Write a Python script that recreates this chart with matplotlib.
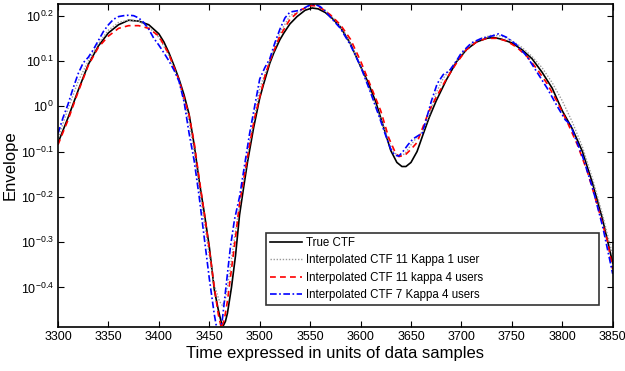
import numpy as np
import matplotlib
matplotlib.use("Agg")
import matplotlib.pyplot as plt

plt.rcParams['font.family'] = ['Liberation Sans', 'DejaVu Sans']
plt.rcParams['mathtext.fontset'] = 'custom'
plt.rcParams['mathtext.rm'] = 'Liberation Sans'
plt.rcParams['mathtext.it'] = 'Liberation Sans'

# ---- data (log10 of envelope) ----
true_x = [3300, 3310, 3320, 3330, 3340, 3350, 3360, 3370, 3380, 3390, 3400, 3405, 3410, 3415,
          3420, 3425, 3430, 3435, 3440, 3445, 3450, 3455, 3459, 3462, 3464, 3466, 3468, 3472,
          3476, 3480, 3484, 3488, 3494, 3500, 3504, 3510, 3514, 3520, 3524, 3530, 3537, 3545,
          3552, 3558, 3565, 3572, 3580, 3590, 3600, 3607, 3615, 3622, 3630, 3636, 3641, 3645,
          3650, 3656, 3662, 3668, 3675, 3685, 3695, 3705, 3715, 3725, 3732, 3740, 3750, 3760,
          3770, 3780, 3790, 3800, 3810, 3820, 3830, 3840, 3850]
true_log = [-0.081, -0.025, 0.035, 0.092, 0.133, 0.162, 0.180, 0.190, 0.188, 0.180, 0.160, 0.142,
            0.118, 0.090, 0.060, 0.025, -0.018, -0.085, -0.165, -0.235, -0.310, -0.405, -0.450,
            -0.478, -0.484, -0.475, -0.457, -0.400, -0.330, -0.240, -0.180, -0.122, -0.047, 0.018,
            0.050, 0.095, 0.118, 0.147, 0.162, 0.182, 0.198, 0.212, 0.217, 0.215, 0.207, 0.194,
            0.175, 0.138, 0.088, 0.055, 0.010, -0.040, -0.098, -0.124, -0.133, -0.133, -0.124,
            -0.100, -0.062, -0.025, 0.012, 0.058, 0.098, 0.125, 0.142, 0.150, 0.152, 0.148, 0.140,
            0.125, 0.105, 0.075, 0.040, -0.010, -0.050, -0.100, -0.170, -0.250, -0.346]

k1_x = [3300, 3310, 3320, 3330, 3340, 3350, 3360, 3370, 3380, 3390, 3400, 3410, 3420, 3430, 3435,
        3440, 3445, 3450, 3455, 3460, 3463, 3466, 3470, 3475, 3480, 3485, 3490, 3495, 3500, 3510,
        3520, 3530, 3540, 3550, 3556, 3565, 3575, 3585, 3595, 3605, 3615, 3625, 3632, 3638, 3644,
        3650, 3656, 3662, 3668, 3675, 3682, 3690, 3700, 3710, 3720, 3730, 3740, 3750, 3760, 3770,
        3780, 3790, 3800, 3810, 3820, 3830, 3840, 3850]
k1_log = [-0.070, -0.005, 0.055, 0.100, 0.138, 0.168, 0.185, 0.190, 0.188, 0.175, 0.152, 0.112,
          0.055, -0.035, -0.100, -0.180, -0.255, -0.330, -0.395, -0.430, -0.440, -0.425, -0.370,
          -0.290, -0.220, -0.150, -0.080, -0.020, 0.040, 0.100, 0.162, 0.200, 0.210, 0.222, 0.224,
          0.212, 0.190, 0.160, 0.115, 0.060, 0.000, -0.060, -0.100, -0.110, -0.105, -0.085, -0.068,
          -0.055, -0.020, 0.030, 0.062, 0.085, 0.115, 0.138, 0.150, 0.157, 0.155, 0.145, 0.130,
          0.110, 0.085, 0.052, 0.012, -0.035, -0.090, -0.160, -0.240, -0.330]

k4_x = [3300, 3310, 3320, 3330, 3340, 3350, 3360, 3370, 3380, 3390, 3400, 3410, 3420, 3430, 3435,
        3440, 3445, 3450, 3455, 3459, 3462, 3465, 3468, 3472, 3476, 3480, 3485, 3490, 3495, 3500,
        3505, 3510, 3520, 3530, 3540, 3550, 3556, 3562, 3570, 3580, 3590, 3600, 3610, 3620, 3628,
        3634, 3638, 3644, 3650, 3656, 3662, 3668, 3675, 3685, 3695, 3705, 3715, 3725, 3735, 3745,
        3755, 3765, 3775, 3785, 3795, 3805, 3815, 3825, 3835, 3845, 3850]
k4_log = [-0.085, -0.030, 0.032, 0.090, 0.130, 0.155, 0.172, 0.178, 0.178, 0.172, 0.155, 0.115,
          0.058, -0.020, -0.080, -0.160, -0.235, -0.315, -0.400, -0.460, -0.490, -0.470, -0.430,
          -0.360, -0.290, -0.215, -0.150, -0.085, -0.025, 0.020, 0.065, 0.100, 0.155, 0.192, 0.212,
          0.222, 0.222, 0.215, 0.202, 0.180, 0.148, 0.100, 0.045, -0.010, -0.070, -0.100, -0.111,
          -0.108, -0.095, -0.080, -0.045, -0.010, 0.020, 0.060, 0.095, 0.125, 0.142, 0.150, 0.150,
          0.144, 0.130, 0.110, 0.082, 0.050, 0.010, -0.035, -0.085, -0.145, -0.220, -0.300, -0.360]

k7_x = [3300, 3305, 3310, 3315, 3320, 3325, 3330, 3335, 3340, 3345, 3350, 3355, 3360, 3365, 3370,
        3375, 3380, 3385, 3390, 3395, 3400, 3405, 3410, 3415, 3420, 3425, 3430, 3435, 3440, 3445,
        3450, 3455, 3459, 3463, 3467, 3471, 3475, 3480, 3485, 3490, 3495, 3500, 3505, 3510, 3515,
        3520, 3525, 3530, 3535, 3540, 3545, 3550, 3555, 3560, 3565, 3570, 3580, 3590, 3600, 3610,
        3618, 3625, 3630, 3634, 3638, 3642, 3647, 3652, 3657, 3661, 3665, 3670, 3676, 3682, 3688,
        3695, 3700, 3710, 3720, 3730, 3737, 3745, 3755, 3765, 3775, 3785, 3795, 3803, 3808, 3812,
        3820, 3830, 3840, 3850]
k7_log = [-0.060, -0.025, 0.005, 0.040, 0.072, 0.096, 0.108, 0.125, 0.145, 0.165, 0.180, 0.192,
          0.198, 0.200, 0.201, 0.200, 0.195, 0.185, 0.170, 0.150, 0.135, 0.118, 0.100, 0.080, 0.055,
          0.010, -0.060, -0.120, -0.200, -0.290, -0.380, -0.460, -0.510, -0.470, -0.390, -0.310,
          -0.250, -0.200, -0.130, -0.060, 0.000, 0.060, 0.085, 0.105, 0.140, 0.170, 0.195, 0.208,
          0.210, 0.212, 0.218, 0.224, 0.225, 0.220, 0.210, 0.197, 0.172, 0.135, 0.088, 0.030,
          -0.020, -0.065, -0.095, -0.108, -0.110, -0.100, -0.085, -0.072, -0.065, -0.060, -0.030,
          0.010, 0.050, 0.070, 0.078, 0.100, 0.118, 0.140, 0.150, 0.155, 0.160, 0.152, 0.135, 0.110,
          0.075, 0.040, 0.000, -0.030, -0.040, -0.065, -0.110, -0.180, -0.265, -0.370]

labels = ['True CTF', 'Interpolated CTF 11 Kappa 1 user',
          'Interpolated CTF 11 kappa 4 users', 'Interpolated CTF 7 Kappa 4 users']
xticks = [3300, 3350, 3400, 3450, 3500, 3550, 3600, 3650, 3700, 3750, 3800, 3850]
ytick_exps = [-0.4, -0.3, -0.2, -0.1, 0, 0.1, 0.2]

fig = plt.figure(figsize=(6.25, 3.71), dpi=100)
ax = fig.add_axes([58/625, 1-327.3/371, (612.7-58)/625, (327.3-4)/371])

ax.plot(true_x, 10**np.array(true_log), color='black', lw=1.2, ls='-', label=labels[0])
ax.plot(k1_x, 10**np.array(k1_log), color='#9a9a9a', lw=1.0, ls=(0, (1, 1.2)), label=labels[1])
ax.plot(k4_x, 10**np.array(k4_log), color='#ff0000', lw=1.2, ls=(0, (3.5, 2.5)), label=labels[2])
ax.plot(k7_x, 10**np.array(k7_log), color='#0000ff', lw=1.2, ls=(0, (4, 1.5, 1, 1.5)), label=labels[3])

ax.set_yscale('log')
ax.set_xlim(3300, 3850)
ax.set_ylim(10**-0.488, 10**0.2258)
ax.set_xticks(xticks)
ax.set_xticklabels([str(v) for v in xticks])
ax.yaxis.set_minor_locator(matplotlib.ticker.NullLocator())
ax.set_yticks([10**e for e in ytick_exps])
ax.set_yticklabels([r'$10^{%s}$' % ('%g' % e) for e in ytick_exps])

ax.tick_params(direction='in', length=4, width=0.8, top=True, right=True, labelsize=9, pad=3)
for s in ax.spines.values():
    s.set_linewidth(1.2)

ax.set_xlabel('Time expressed in units of data samples', fontsize=12, labelpad=2)
ax.set_ylabel('Envelope', fontsize=12, labelpad=2)

x0 = (266 - 58) / 554.7
w = (599 - 266) / 554.7
y0 = (327.3 - 305) / 323.3
h = (305 - 241.7) / 323.3
leg = ax.legend(loc='lower left', bbox_to_anchor=(x0, y0, w, h), mode='expand', borderaxespad=0,
                fontsize=8.3, frameon=True, fancybox=False, edgecolor='black',
                handlelength=2.8, handletextpad=0.35, labelspacing=0.47, borderpad=0.35)
leg.get_frame().set_linewidth(1.2)

fig.savefig('out.png', dpi=100)
